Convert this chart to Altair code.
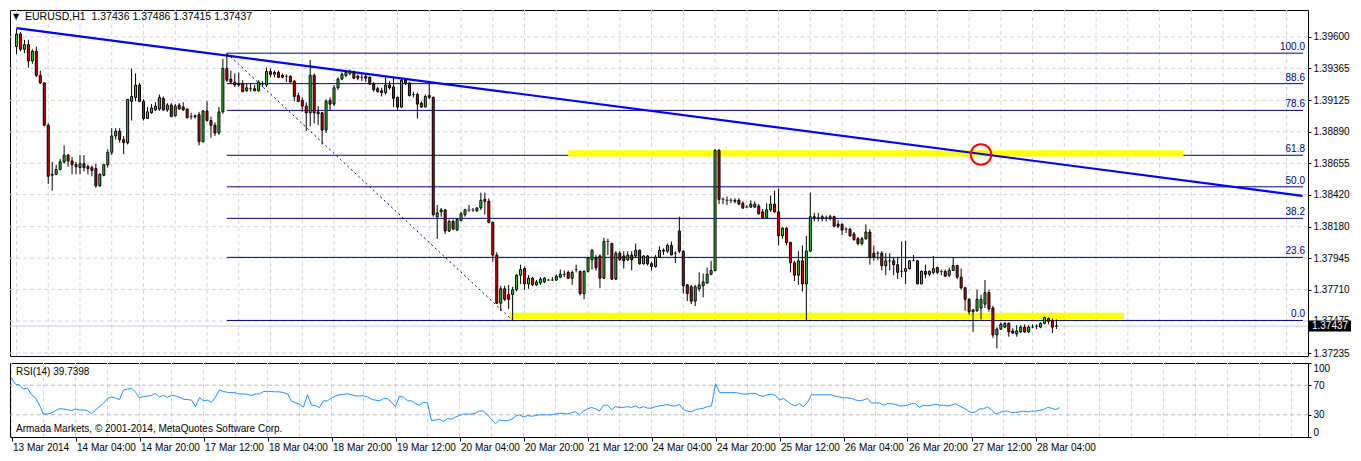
import altair as alt
import pandas as pd

# ---------------- data (EURUSD H1, bars 13 Mar 12:00 -> 28 Mar 10:00) ----------------
OPEN = [1.39528,1.39622,1.39507,1.39542,1.39420,1.39492,1.39312,1.39255,1.38939,1.38565,
1.38572,1.38608,1.38665,1.38716,1.38672,1.38644,1.38622,1.38651,1.38629,1.38622,
1.38615,1.38486,1.38565,1.38644,1.38737,1.38859,1.38895,1.38831,1.38809,1.39118,
1.39147,1.39240,1.39118,1.38989,1.39032,1.39054,1.39061,1.39140,1.39054,1.39090,
1.39010,1.39090,1.39075,1.39061,1.39003,1.39003,1.39018,1.38816,1.39046,1.38974,
1.38939,1.38881,1.39039,1.39363,1.39284,1.39262,1.39240,1.39248,1.39197,1.39212,
1.39212,1.39197,1.39248,1.39240,1.39341,1.39320,1.39334,1.39312,1.39305,1.39305,
1.39269,1.39161,1.39125,1.39082,1.39032,1.39312,1.39039,1.39032,1.38903,1.39125,
1.39097,1.39219,1.39284,1.39312,1.39327,1.39334,1.39305,1.39298,1.39305,1.39298,
1.39248,1.39212,1.39197,1.39183,1.39240,1.39226,1.39147,1.39075,1.39276,1.39255,
1.39169,1.39169,1.39104,1.39075,1.39161,1.39147,1.38255,1.38291,1.38306,1.38148,
1.38220,1.38155,1.38227,1.38270,1.38306,1.38306,1.38299,1.38320,1.38385,1.38370,
1.38212,1.37968,1.37608,1.37716,1.37673,1.37673,1.37709,1.37817,1.37867,1.37752,
1.37795,1.37745,1.37759,1.37767,1.37781,1.37781,1.37781,1.37803,1.37824,1.37838,
1.37795,1.37860,1.37846,1.37680,1.37846,1.37932,1.37946,1.37961,1.37795,1.38069,
1.38054,1.37788,1.37982,1.37961,1.37932,1.37968,1.37961,1.38004,1.37903,1.37961,
1.37903,1.37882,1.37953,1.37997,1.37997,1.38040,1.37982,1.38148,1.37997,1.37745,
1.37731,1.37623,1.37716,1.37738,1.37759,1.37824,1.37853,1.38752,1.38385,1.38378,
1.38378,1.38370,1.38378,1.38356,1.38327,1.38327,1.38327,1.38335,1.38291,1.38248,
1.38306,1.38349,1.38291,1.38112,1.38169,1.38061,1.37910,1.37817,1.37925,1.37752,
1.37997,1.38248,1.38248,1.38241,1.38248,1.38241,1.38255,1.38198,1.38198,1.38162,
1.38162,1.38126,1.38090,1.38054,1.38090,1.38140,1.37982,1.37982,1.37982,1.37889,
1.37925,1.37925,1.37896,1.37846,1.37846,1.37867,1.37925,1.37925,1.37752,1.37846,
1.37824,1.37838,1.37874,1.37846,1.37846,1.37817,1.37853,1.37889,1.37803,1.37723,
1.37637,1.37544,1.37551,1.37572,1.37601,1.37688,1.37572,1.37371,1.37414,1.37429,
1.37457,1.37400,1.37378,1.37393,1.37429,1.37393,1.37429,1.37436,1.37429,1.37457,
1.37493,1.37472,1.37436]

HIGH = [1.39658,1.39636,1.39578,1.39578,1.39507,1.39528,1.39348,1.39262,1.38953,1.38665,
1.38644,1.38687,1.38788,1.38723,1.38701,1.38665,1.38716,1.38716,1.38644,1.38637,
1.38651,1.38579,1.38651,1.38759,1.38917,1.38917,1.38917,1.38859,1.39133,1.39363,
1.39327,1.39255,1.39133,1.39075,1.39097,1.39111,1.39169,1.39154,1.39104,1.39104,
1.39097,1.39104,1.39111,1.39061,1.39032,1.39018,1.39039,1.39054,1.39118,1.39003,
1.38960,1.39075,1.39435,1.39478,1.39348,1.39327,1.39334,1.39276,1.39255,1.39255,
1.39240,1.39276,1.39269,1.39370,1.39363,1.39348,1.39348,1.39327,1.39320,1.39312,
1.39276,1.39183,1.39147,1.39111,1.39427,1.39327,1.39082,1.39039,1.39133,1.39147,
1.39240,1.39298,1.39334,1.39348,1.39356,1.39348,1.39320,1.39320,1.39327,1.39305,
1.39262,1.39226,1.39219,1.39298,1.39269,1.39298,1.39154,1.39291,1.39291,1.39262,
1.39190,1.39183,1.39118,1.39169,1.39248,1.39154,1.38342,1.38320,1.38313,1.38234,
1.38234,1.38241,1.38291,1.38313,1.38342,1.38320,1.38327,1.38435,1.38435,1.38392,
1.38220,1.37989,1.37738,1.37738,1.37745,1.37731,1.37824,1.37896,1.37882,1.37817,
1.37803,1.37781,1.37803,1.37803,1.37788,1.37803,1.37824,1.37860,1.37853,1.37853,
1.37853,1.37896,1.37853,1.37853,1.37953,1.38011,1.37968,1.37975,1.38097,1.38090,
1.38061,1.37997,1.37997,1.37997,1.37997,1.37997,1.38054,1.38011,1.37968,1.37968,
1.37918,1.37968,1.38033,1.38018,1.38054,1.38069,1.37997,1.38255,1.38004,1.37752,
1.37745,1.37745,1.37838,1.37831,1.37874,1.37925,1.38759,1.38759,1.38399,1.38406,
1.38392,1.38392,1.38392,1.38370,1.38342,1.38378,1.38370,1.38349,1.38313,1.38356,
1.38414,1.38450,1.38464,1.38176,1.38176,1.38069,1.37925,1.37997,1.38040,1.38112,
1.38435,1.38284,1.38284,1.38270,1.38263,1.38270,1.38263,1.38227,1.38205,1.38176,
1.38169,1.38140,1.38104,1.38104,1.38198,1.38162,1.38040,1.37997,1.37997,1.37982,
1.37982,1.37946,1.37953,1.38069,1.38076,1.37932,1.37968,1.37932,1.37853,1.37896,
1.37853,1.37961,1.37882,1.37860,1.37860,1.37874,1.37953,1.37896,1.37867,1.37731,
1.37644,1.37565,1.37709,1.37673,1.37781,1.37709,1.37587,1.37429,1.37465,1.37465,
1.37465,1.37421,1.37443,1.37443,1.37450,1.37443,1.37450,1.37450,1.37465,1.37508,
1.37501,1.37493,1.37486]

LOW = [1.39471,1.39492,1.39478,1.39370,1.39399,1.39298,1.39248,1.38931,1.38500,1.38450,
1.38565,1.38601,1.38651,1.38629,1.38572,1.38572,1.38572,1.38593,1.38572,1.38557,
1.38471,1.38478,1.38557,1.38622,1.38716,1.38831,1.38809,1.38723,1.38795,1.38974,
1.39118,1.39111,1.38974,1.38989,1.39025,1.39046,1.39046,1.39046,1.39039,1.39003,
1.39003,1.39054,1.39046,1.38989,1.38982,1.38989,1.38788,1.38809,1.38967,1.38845,
1.38859,1.38867,1.39025,1.39262,1.39248,1.39226,1.39226,1.39190,1.39190,1.39190,
1.39197,1.39190,1.39226,1.39226,1.39298,1.39298,1.39291,1.39291,1.39262,1.39262,
1.39118,1.39111,1.39039,1.38895,1.38931,1.38953,1.38939,1.38795,1.38881,1.39046,
1.39082,1.39205,1.39276,1.39298,1.39312,1.39284,1.39276,1.39269,1.39262,1.39240,
1.39190,1.39183,1.39154,1.39169,1.39205,1.39075,1.39046,1.39068,1.39240,1.39154,
1.39147,1.38989,1.39068,1.39075,1.39133,1.38255,1.38090,1.38255,1.38126,1.38140,
1.38155,1.38148,1.38220,1.38255,1.38291,1.38291,1.38291,1.38306,1.38270,1.38205,
1.37918,1.37601,1.37551,1.37623,1.37565,1.37479,1.37695,1.37752,1.37709,1.37716,
1.37738,1.37738,1.37745,1.37759,1.37774,1.37774,1.37774,1.37795,1.37803,1.37788,
1.37745,1.37838,1.37666,1.37637,1.37838,1.37860,1.37853,1.37723,1.37788,1.37968,
1.37781,1.37781,1.37925,1.37867,1.37925,1.37853,1.37953,1.37896,1.37896,1.37889,
1.37853,1.37874,1.37946,1.37968,1.37982,1.37968,1.37910,1.37982,1.37680,1.37623,
1.37601,1.37587,1.37695,1.37652,1.37752,1.37817,1.37846,1.38349,1.38349,1.38342,
1.38356,1.38356,1.38342,1.38313,1.38320,1.38320,1.38320,1.38270,1.38241,1.38241,
1.38291,1.38284,1.38040,1.38090,1.38040,1.37838,1.37774,1.37745,1.37695,1.37479,
1.37989,1.38220,1.38220,1.38220,1.38220,1.38227,1.38176,1.38169,1.38119,1.38133,
1.38104,1.38076,1.38040,1.38040,1.38083,1.37896,1.37925,1.37932,1.37853,1.37817,
1.37853,1.37817,1.37788,1.37803,1.37752,1.37860,1.37925,1.37752,1.37752,1.37795,
1.37810,1.37824,1.37824,1.37817,1.37803,1.37803,1.37853,1.37788,1.37709,1.37551,
1.37522,1.37393,1.37544,1.37486,1.37572,1.37544,1.37349,1.37270,1.37407,1.37421,
1.37357,1.37378,1.37357,1.37385,1.37385,1.37385,1.37421,1.37414,1.37421,1.37450,
1.37450,1.37385,1.37415]

CLOSE = [1.39622,1.39507,1.39542,1.39420,1.39492,1.39312,1.39255,1.38939,1.38557,1.38572,
1.38608,1.38665,1.38716,1.38672,1.38644,1.38629,1.38651,1.38622,1.38615,1.38601,
1.38486,1.38572,1.38644,1.38737,1.38859,1.38895,1.38831,1.38809,1.39133,1.39154,
1.39240,1.39118,1.38989,1.39039,1.39068,1.39082,1.39147,1.39054,1.39090,1.39003,
1.39082,1.39061,1.39054,1.38996,1.39003,1.39010,1.38816,1.39046,1.38974,1.38939,
1.38881,1.39039,1.39363,1.39276,1.39262,1.39240,1.39248,1.39190,1.39219,1.39212,
1.39197,1.39262,1.39248,1.39341,1.39320,1.39334,1.39298,1.39298,1.39305,1.39262,
1.39154,1.39118,1.39082,1.39032,1.39312,1.39032,1.39025,1.38903,1.39118,1.39097,
1.39219,1.39284,1.39320,1.39334,1.39341,1.39291,1.39291,1.39298,1.39291,1.39248,
1.39205,1.39190,1.39183,1.39240,1.39219,1.39140,1.39075,1.39276,1.39255,1.39161,
1.39169,1.39097,1.39075,1.39154,1.39147,1.38270,1.38284,1.38306,1.38148,1.38220,
1.38162,1.38234,1.38277,1.38306,1.38306,1.38306,1.38320,1.38378,1.38370,1.38212,
1.37968,1.37608,1.37716,1.37637,1.37637,1.37709,1.37817,1.37860,1.37752,1.37795,
1.37745,1.37767,1.37788,1.37795,1.37781,1.37781,1.37810,1.37824,1.37824,1.37795,
1.37838,1.37860,1.37680,1.37846,1.37946,1.38004,1.37874,1.37795,1.38069,1.38069,
1.37788,1.37982,1.37932,1.37925,1.37968,1.37932,1.38004,1.37903,1.37961,1.37903,
1.37882,1.37953,1.38004,1.38004,1.38040,1.37968,1.37982,1.37997,1.37738,1.37680,
1.37623,1.37731,1.37745,1.37767,1.37824,1.37853,1.38752,1.38385,1.38385,1.38378,
1.38378,1.38378,1.38349,1.38320,1.38327,1.38349,1.38349,1.38277,1.38248,1.38306,
1.38349,1.38291,1.38112,1.38169,1.38061,1.37910,1.37817,1.37925,1.37752,1.37997,
1.38255,1.38255,1.38248,1.38255,1.38248,1.38255,1.38184,1.38184,1.38155,1.38162,
1.38112,1.38083,1.38054,1.38090,1.38140,1.37953,1.37953,1.37982,1.37889,1.37925,
1.37925,1.37896,1.37838,1.37846,1.37867,1.37925,1.37925,1.37752,1.37846,1.37824,
1.37846,1.37867,1.37838,1.37846,1.37810,1.37853,1.37889,1.37803,1.37723,1.37637,
1.37544,1.37558,1.37637,1.37637,1.37688,1.37565,1.37371,1.37414,1.37450,1.37457,
1.37393,1.37385,1.37400,1.37429,1.37393,1.37429,1.37429,1.37436,1.37457,1.37501,
1.37472,1.37429,1.37437]

RSI = [79.9,71.3,70.4,64.8,66.0,57.0,53.0,43.0,31.0,31.0,
32.6,35.6,38.2,37.8,37.0,35.6,37.8,36.5,36.5,35.6,
31.3,36.5,41.2,45.5,52.0,54.0,52.8,50.6,63.5,64.8,
66.0,60.5,53.2,54.5,55.4,56.2,58.8,54.0,56.2,53.2,
56.2,55.4,53.7,51.0,50.6,49.8,41.2,53.2,48.9,49.8,
46.8,54.0,63.5,61.4,60.5,60.0,59.7,58.0,58.4,57.5,
56.2,58.0,58.4,61.4,61.8,61.4,61.0,61.0,60.0,58.4,
48.5,46.4,44.2,40.3,57.1,43.3,42.5,39.9,48.9,48.9,
52.8,55.4,57.1,57.5,58.4,57.1,55.4,55.4,55.8,54.0,
51.0,49.8,48.9,51.9,51.9,46.8,41.2,55.4,53.7,48.9,
49,45,43,47,46,22,23,24,21,25,
24,27,29,31,31,31,32,35,35,30,
24,18,23,22,22,24,28,30,27,29,
28,29,30,30,30,30,31,32,32,31,
33,34,30,35,38,40,38,35,43,43,
37,41,40,40,41,40,42,39,41,39,
39,41,42,43,44,42,42,44,37,35,
34,37,38,39,41,42,72,60,60,60,
60,60,59,58,58,59,59,56,55,57,
58,56,50,52,48,44,42,45,41,47,
57,57,57,57,57,57,55,54,53,53,
52,50,49,50,52,46,46,46,43,45,
45,44,42,42,43,45,45,40,43,42,
43,44,43,43,42,43,45,42,39,36,
33,34,38,38,41,37,31,33,35,35,
33,33,34,35,34,35,35,36,37,40,
39,37,39.74]

TIME_LABELS = ["13 Mar 2014", "14 Mar 04:00", "14 Mar 20:00", "17 Mar 12:00", "18 Mar 04:00",
               "18 Mar 20:00", "19 Mar 12:00", "20 Mar 04:00", "20 Mar 20:00", "21 Mar 12:00",
               "24 Mar 04:00", "24 Mar 20:00", "25 Mar 12:00", "26 Mar 04:00", "26 Mar 20:00",
               "27 Mar 12:00", "28 Mar 04:00"]
LABEL_BARS = [16 * k for k in range(len(TIME_LABELS))]
GRID_BARS = list(range(0, 321, 8))
PRICE_TICKS = [1.39600, 1.39365, 1.39125, 1.38890, 1.38655, 1.38420,
               1.38180, 1.37945, 1.37710, 1.37475, 1.37235]
RSI_TICKS = [0, 30, 70, 100]
RSI_LEVELS = [30, 70]

FIB_NAMES = ["100.0", "88.6", "78.6", "61.8", "50.0", "38.2", "23.6", "0.0"]
FIB_RATIOS = [1.0, 0.886, 0.786, 0.618, 0.5, 0.382, 0.236, 0.0]
FIB_HIGH, FIB_LOW = 1.39478, 1.37479
FIB_HIGH_BAR, FIB_LOW_BAR = 53, 125

TREND_BARS = [0, 324]
TREND_PRICES = [1.39665, 1.38411]

ZONE_X1 = [139, 124.25]
ZONE_X2 = [294, 279]
ZONE_TOP = [1.38752, 1.37537]
ZONE_BOTTOM = [1.38706, 1.37489]

CIRCLE_BAR, CIRCLE_PRICE = 243, 1.38720

HEADER = "EURUSD,H1\u00a0\u00a01.37436 1.37486 1.37415 1.37437"
RSI_TITLE = "RSI(14) 39.7398"
COPYRIGHT = "Armada Markets, \u00a9 2001-2014, MetaQuotes Software Corp."

# ---------------- layout / style ----------------
W, H1, H2 = 1298, 346, 74
X_DOMAIN = [-0.375, 324.125]
P_DOMAIN = [1.37213, 1.39801]
FONT = "Liberation Sans"
GRIDC = "#d2d2ea"
NAVY = "#000080"
UP, DOWN = "#32cd32", "#e00000"

bars = pd.DataFrame({"i": list(range(len(CLOSE))), "o": OPEN, "h": HIGH,
                     "l": LOW, "c": CLOSE, "rsi": RSI})

xs = alt.Scale(domain=X_DOMAIN, nice=False, zero=False)
ys = alt.Scale(domain=P_DOMAIN, nice=False, zero=False)
yr = alt.Scale(domain=[0, 100], nice=False, zero=False)

price_axis = alt.Axis(orient="right", values=PRICE_TICKS, format=".5f", grid=False,
                      domain=False, ticks=True, tickSize=3, tickColor="black",
                      labelPadding=2, title=None, labelColor="black")
label_expr = "[" + ",".join(f"'{t}'" for t in TIME_LABELS) + "][round(datum.value/16)]"
time_axis = alt.Axis(values=LABEL_BARS, labelExpr=label_expr, labelAlign="left", labelOffset=1,
                     labelPadding=1, tickSize=4, tickColor="black", domain=False, grid=False,
                     title=None, labelOverlap=False, labelFlush=False, labelColor="black")
rsi_axis = alt.Axis(orient="right", values=RSI_TICKS, labelFlush=True, tickSize=3,
                    tickColor="black", domain=False, grid=False, title=None, labelPadding=2,
                    labelColor="black", labelOverlap=False)

# main panel: no x axis, shared right price axis on every layer
def XM(f):
    return alt.X(f, type="quantitative", scale=xs, axis=None)

def YM(f):
    return alt.Y(f, type="quantitative", scale=ys, axis=price_axis)

# RSI panel: shared time axis and RSI axis on every layer
def XR(f):
    return alt.X(f, type="quantitative", scale=xs, axis=time_axis)

def YR(f):
    return alt.Y(f, type="quantitative", scale=yr, axis=rsi_axis)

vgrid = alt.Chart(pd.DataFrame({"g": GRID_BARS})).mark_rule(
    color=GRIDC, strokeDash=[4, 3], strokeWidth=1).encode(x=XM("g"))
hgrid = alt.Chart(pd.DataFrame({"p": PRICE_TICKS})).mark_rule(
    color=GRIDC, strokeDash=[4, 3], strokeWidth=1).encode(y=YM("p"))

fib_df = pd.DataFrame({
    "name": FIB_NAMES,
    "p": [FIB_LOW + r * (FIB_HIGH - FIB_LOW) for r in FIB_RATIOS],
    "x1": [FIB_HIGH_BAR] * len(FIB_NAMES),
    "x2": [X_DOMAIN[1]] * len(FIB_NAMES),
})
fib_rules = alt.Chart(fib_df).mark_rule(color=NAVY, strokeWidth=1).encode(
    x=XM("x1"), x2="x2:Q", y=YM("p"))
fib_text = alt.Chart(fib_df).mark_text(
    align="right", baseline="bottom", dy=-1, fontSize=10, color=NAVY, font=FONT
).encode(x=alt.value(W - 3), y=YM("p"), text="name:N")

zones = alt.Chart(pd.DataFrame({"x1": ZONE_X1, "x2": ZONE_X2, "t": ZONE_TOP, "b": ZONE_BOTTOM})
                  ).mark_rect(color="#ffff00", opacity=1).encode(
    x=XM("x1"), x2="x2:Q", y=YM("t"), y2="b:Q")

bid = alt.Chart(pd.DataFrame({"p": [CLOSE[-1]]})).mark_rule(
    color="#c6c6e4", strokeWidth=1).encode(y=YM("p"))

trend = alt.Chart(pd.DataFrame({"x": TREND_BARS, "p": TREND_PRICES})).mark_line(
    color="#0000ff", strokeWidth=2.2).encode(x=XM("x"), y=YM("p"))

fib_diag = alt.Chart(pd.DataFrame({"x": [FIB_HIGH_BAR, FIB_LOW_BAR], "p": [FIB_HIGH, FIB_LOW]})
                     ).mark_line(color=NAVY, strokeWidth=1, strokeDash=[2, 3]).encode(
    x=XM("x"), y=YM("p"))

wicks = alt.Chart(bars).mark_rule(color="black", strokeWidth=1).encode(
    x=XM("i"), y=YM("l"), y2="h:Q")
bodies = alt.Chart(bars).transform_filter("datum.o != datum.c").mark_bar(
    size=2, stroke="black", strokeWidth=1).encode(
    x=XM("i"), y=YM("o"), y2="c:Q",
    fill=alt.condition("datum.c > datum.o", alt.value(UP), alt.value(DOWN)))
dojis = alt.Chart(bars).transform_filter("datum.o == datum.c").mark_tick(
    orient="horizontal", size=3, thickness=1, color="black").encode(
    x=XM("i"), y=YM("c"))

circle = alt.Chart(pd.DataFrame({"x": [CIRCLE_BAR], "p": [CIRCLE_PRICE]})).mark_point(
    shape="circle", size=420, filled=False, color="#ff0000", strokeWidth=2, opacity=1
).encode(x=XM("x"), y=YM("p"))

tri = alt.Chart(pd.DataFrame({"t": ["\u25bc"]})).mark_text(
    align="center", baseline="middle", fontSize=8, font="DejaVu Sans", color="black"
).encode(x=alt.value(6), y=alt.value(7), text="t:N")
header = alt.Chart(pd.DataFrame({"t": [HEADER]})).mark_text(
    align="left", baseline="middle", fontSize=10.5, font=FONT, color="black"
).encode(x=alt.value(15), y=alt.value(7), text="t:N")

last_df = pd.DataFrame({"p": [CLOSE[-1]], "t": [f"{CLOSE[-1]:.5f}"]})
price_box = alt.Chart(last_df).mark_point(
    shape="M-1,-0.26L1,-0.26L1,0.26L-1,0.26Z", size=42 * 42, filled=True,
    color="black", opacity=1, strokeWidth=0).encode(x=alt.value(W + 22), y=YM("p"))
price_txt = alt.Chart(last_df).mark_text(
    align="center", baseline="middle", fontSize=10, font=FONT, color="white"
).encode(x=alt.value(W + 22), y=YM("p"), text="t:N")

main = alt.layer(vgrid, hgrid, fib_rules, zones, bid, trend, fib_diag, wicks, bodies,
                 dojis, circle, fib_text, tri, header, price_box, price_txt
                 ).properties(width=W, height=H1)

# ---------------- RSI panel ----------------
rsi_vgrid = alt.Chart(pd.DataFrame({"g": GRID_BARS})).mark_rule(
    color=GRIDC, strokeDash=[4, 3], strokeWidth=1).encode(x=XR("g"))
rsi_levels = alt.Chart(pd.DataFrame({"v": RSI_LEVELS})).mark_rule(
    color="#b8b8b8", strokeDash=[4, 3], strokeWidth=1).encode(y=YR("v"))
rsi_line = alt.Chart(bars).mark_line(color="#1e90ff", strokeWidth=1).encode(
    x=XR("i"), y=YR("rsi"))
rsi_title = alt.Chart(pd.DataFrame({"t": [RSI_TITLE]})).mark_text(
    align="left", baseline="middle", fontSize=10, font=FONT, color="black"
).encode(x=alt.value(6), y=alt.value(9), text="t:N")
rsi_copy = alt.Chart(pd.DataFrame({"t": [COPYRIGHT]})).mark_text(
    align="left", baseline="middle", fontSize=10, font=FONT, color="black"
).encode(x=alt.value(6), y=alt.value(H2 - 8), text="t:N")

rsi = alt.layer(rsi_vgrid, rsi_levels, rsi_line, rsi_title, rsi_copy).properties(width=W, height=H2)

chart = alt.vconcat(main, rsi, spacing=3).properties(
    padding={"left": 1, "top": 1, "right": 0, "bottom": 0}, background="white"
).configure_view(stroke="black", strokeWidth=1).configure_axis(
    labelFont=FONT, labelFontSize=10, labelColor="black")

chart.save("out.html", embed_options={"renderer": "svg", "actions": False})
